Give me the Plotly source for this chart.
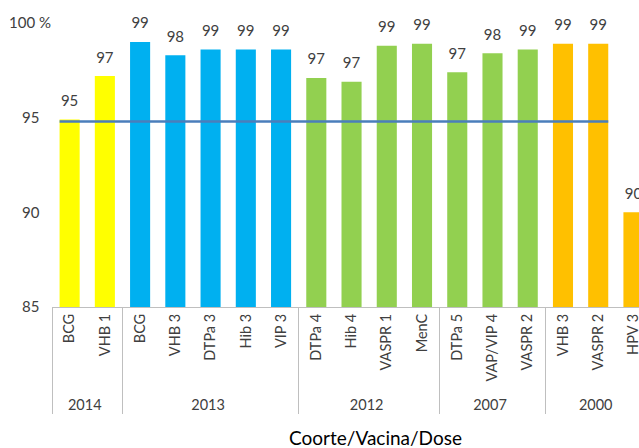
import plotly.graph_objects as go

# ---- data ----
cohorts = ["2014", "2014", "2013", "2013", "2013", "2013", "2013",
           "2012", "2012", "2012", "2012", "2007", "2007", "2007",
           "2000", "2000", "2000"]
vaccines = ["BCG", "VHB 1", "BCG", "VHB 3", "DTPa 3", "Hib 3", "VIP 3",
            "DTPa 4", "Hib 4", "VASPR 1", "MenC", "DTPa 5", "VAP/VIP 4", "VASPR 2",
            "VHB 3", "VASPR 2", "HPV 3"]
coverage = [94.9, 97.2, 99.0, 98.3, 98.6, 98.6, 98.6,
            97.1, 96.9, 98.8, 98.9, 97.4, 98.4, 98.6,
            98.9, 98.9, 90.0]
cohort_colors = {"2014": "#FFFF00", "2013": "#00B0F0", "2012": "#92D050",
                 "2007": "#92D050", "2000": "#FFC000"}
target_value = 94.8
target_first, target_last = 0, 15  # category indices covered by the target line

y_ticks = [85, 90, 95, 100]
y_ticktext = ["85\u00a0\u00a0\u00a0", "90\u00a0\u00a0\u00a0", "95\u00a0\u00a0\u00a0", "100 %"]

FONT = "Lato"
TXT = "#404040"
bargap = 0.43
W, H = 639, 448
ML, MT, MB = 51.5, 23, 140.5
plot_w = W - ML
plot_h = H - MT - MB
cat_px = 35.27
x_range = [-0.5, -0.5 + plot_w / cat_px]

fig = go.Figure()
fig.add_trace(go.Bar(
    x=[cohorts, vaccines], y=coverage,
    marker=dict(color=[cohort_colors[c] for c in cohorts], line=dict(width=0)),
    showlegend=False, hoverinfo="y",
))
fig.add_trace(go.Scatter(
    x=[cohorts, vaccines], y=coverage,
    mode="markers+text", marker=dict(size=14, opacity=0),
    texttemplate="%{y:.0f}", textposition="top center", cliponaxis=False,
    textfont=dict(family=FONT, size=15, color=TXT),
    showlegend=False, hoverinfo="skip",
))

half = (1 - bargap) / 2
fig.add_trace(go.Scatter(
    x=[target_first - half, target_last + half], y=[target_value, target_value],
    mode="lines", line=dict(color="#4A7EBB", width=2.5),
    xaxis="x2", showlegend=False, hoverinfo="skip",
))

fig.update_layout(
    width=W, height=H,
    margin=dict(l=ML, r=0, t=MT, b=MB, autoexpand=False),
    paper_bgcolor="white", plot_bgcolor="white",
    bargap=bargap,
    font=dict(family=FONT, color=TXT),
    xaxis=dict(
        type="multicategory", range=x_range, automargin=False,
        showline=True, linecolor="#BFBFBF", linewidth=1,
        showdividers=True, dividercolor="#BFBFBF", dividerwidth=1,
        ticks="", tickangle=-90,
        tickfont=dict(family=FONT, size=14.5, color=TXT),
        showgrid=False, zeroline=False,
    ),
    xaxis2=dict(overlaying="x", range=x_range, visible=False, type="linear"),
    yaxis=dict(
        range=[85, 100], tickvals=y_ticks, ticktext=y_ticktext, automargin=False,
        showgrid=False, zeroline=False, showline=False, ticks="",
        tickfont=dict(family=FONT, size=15, color=TXT),
        ticklabelstandoff=0,
    ),
    annotations=[dict(
        text="Coorte/Vacina/Dose", xref="paper", yref="paper",
        x=(375 - ML) / plot_w, y=-(438 - (MT + plot_h)) / plot_h,
        xanchor="center", yanchor="middle", showarrow=False,
        font=dict(family=FONT, size=19, color="#000000"),
    )],
)

fig.write_html("out.html",
               config={"displayModeBar": False},
               post_script="document.body.style.margin='0';document.body.style.overflow='hidden';")
